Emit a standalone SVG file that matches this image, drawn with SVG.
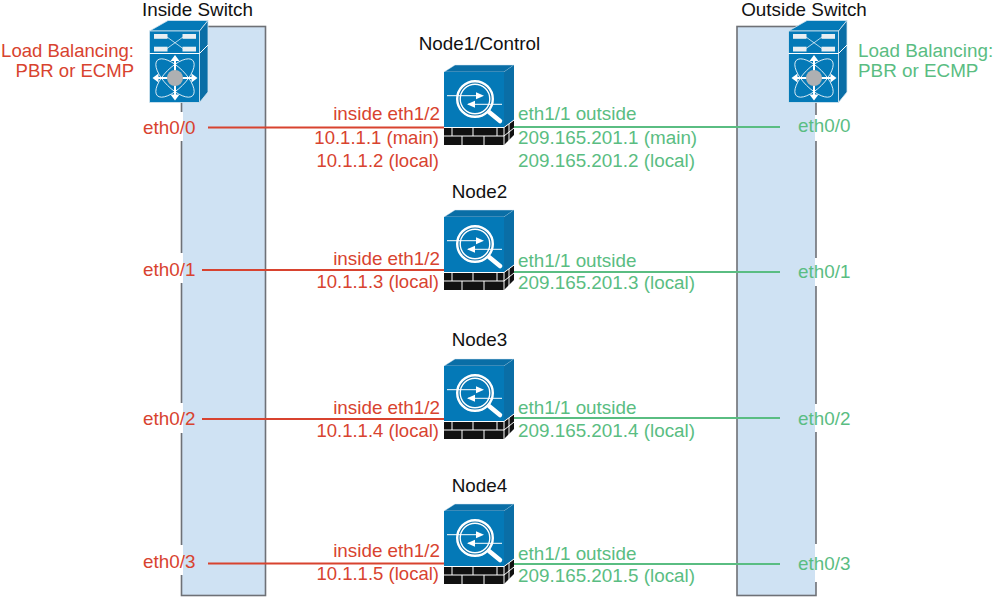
<svg xmlns="http://www.w3.org/2000/svg" width="994" height="597" viewBox="0 0 994 597">
<style>
text{font-family:"Liberation Sans",Arial,sans-serif;font-size:18.85px}
.k{fill:#111}
.r{fill:#d8432f}
.g{fill:#5abd82}
.e{text-anchor:end}
.n{font-size:18.55px}
.panel{fill:#cfe2f3;stroke:#6e7176;stroke-width:1.6}
.bg{fill:#fff}
.rl{stroke:#d8432f;stroke-width:2.2;fill:none}
.gl{stroke:#5abd82;stroke-width:2.2;fill:none}
.b1{fill:#0479b7}
.b2{fill:#0a6ea6}
.w{stroke:#fff;fill:none}
.wf{fill:#fff}
</style>
<defs>
<g id="sw">
<path class="b1" d="M149.500 31L168 20.500H208L199.500 31Z" stroke="#d6e6f0" stroke-width=".8"/>
<path class="b2" d="M199.500 31L208 20.500V92L199.500 102.500Z" stroke="#d6e6f0" stroke-width=".8"/>
<rect class="b1" x="149.500" y="31" width="50" height="71.500" stroke="#d6e6f0" stroke-width=".8"/>
<path class="w" stroke-width="1" d="M149.500 53.500H199.500L208 45"/>
<rect fill="#e8eef2" x="154" y="34" width="13.500" height="4.800"/><rect fill="#e8eef2" x="182.500" y="34" width="13.500" height="4.800"/>
<rect fill="#e8eef2" x="154" y="46.700" width="13.500" height="4.800"/><rect fill="#e8eef2" x="182.500" y="46.700" width="13.500" height="4.800"/>
<path class="w" stroke-width=".7" d="M167 37L183 48.500M167 48.500L183 37"/>
<ellipse class="w" stroke-width=".8" cx="175" cy="78" rx="25" ry="10.500" transform="rotate(45 175 78)"/>
<ellipse class="w" stroke-width=".8" cx="175" cy="78" rx="25" ry="10.500" transform="rotate(-45 175 78)"/>
<path class="w" stroke-width="2" d="M175 58V98M155 78H195"/>
<path class="wf" d="M175 55l4.500 6h-9zM175 100.500l4.500-6h-9zM152.500 78l6-4.500v9zM197.500 78l-6-4.500v9z"/>
<circle cx="175" cy="78" r="8" fill="#aeb0b2"/>
</g>
<g id="fw">
<path class="b2" d="M444 72L455 65H514L504 72Z" stroke="#d6e6f0" stroke-width=".5"/>
<path class="b2" d="M504 72L514 65V120L504 127.500Z"/>
<rect class="b1" x="444" y="72" width="60" height="55.500"/>
<path d="M444 127.500H504V145H444Z" fill="#111"/>
<path d="M504 127.500L514 120V135L504 145Z" fill="#111"/>
<path class="w" stroke-width="1" d="M444 127.500H504L514 120M444 136H504L514 128M452 127.500V136M473 127.500V136M497 127.500V136M462 136V145M484 136V145M504 127.500V145M509 124V132M509 132V141"/>
<circle cx="475" cy="99" r="17.800" fill="#0a6ea6" stroke="#fff" stroke-width="2.400"/>
<circle cx="475" cy="99" r="14.800" fill="#0479b7" stroke="#fff" stroke-width="1.400"/>
<path d="M489 112L500 121" stroke="#fff" stroke-width="4.500" stroke-linecap="round"/>
<path class="w" stroke-width="1" d="M447 95.700H480M468 104.300H502"/>
<path class="wf" d="M484 95.700l-8-3.500v7zM467 104.300l8-3.500v7z"/>
</g>
</defs>

<g id="inside-switch">
<rect class="panel" x="181.500" y="26.500" width="84" height="569"/>
<rect class="bg" x="140" y="112" width="43" height="29"/>
<rect class="bg" x="140" y="253" width="43" height="30"/>
<rect class="bg" x="140" y="403" width="43" height="30"/>
<rect class="bg" x="140" y="545" width="43" height="30"/>
<use href="#sw"/>
<text x="197.500" y="15.500" class="k" text-anchor="middle">Inside Switch</text>
<text x="134" y="56.500" class="r e n">Load Balancing:</text>
<text x="134" y="76.500" class="r e n">PBR or ECMP</text>
<text x="143" y="134" class="r">eth0/0</text>
<text x="143" y="276" class="r">eth0/1</text>
<text x="143" y="425" class="r">eth0/2</text>
<text x="143" y="568" class="r">eth0/3</text>
</g>

<g id="outside-switch">
<rect class="panel" x="737" y="26.500" width="79" height="569"/>
<rect class="bg" x="815" y="115" width="3" height="26"/>
<rect class="bg" x="815" y="258" width="3" height="28"/>
<rect class="bg" x="815" y="404" width="3" height="28"/>
<rect class="bg" x="815" y="544" width="3" height="38"/>
<use href="#sw" x="639"/>
<text x="804" y="15.500" class="k" text-anchor="middle">Outside Switch</text>
<text x="858" y="56.500" class="g">Load Balancing:</text>
<text x="858" y="76.500" class="g">PBR or ECMP</text>
<text x="798" y="132" class="g">eth0/0</text>
<text x="798" y="277.500" class="g">eth0/1</text>
<text x="798" y="424.500" class="g">eth0/2</text>
<text x="798" y="570" class="g">eth0/3</text>
</g>

<g id="connectors">
<path class="rl" d="M208 127.500H444M202 270H444M202 419H444M208 563.500H444"/>
<path class="gl" d="M514 127H780M514 272H780M514 418H780M514 564H780"/>
</g>

<g id="node1">
<use href="#fw"/>
<text x="479.500" y="50" class="k" text-anchor="middle">Node1/Control</text>
<text x="440" y="120" class="r e">inside eth1/2</text>
<text x="439" y="143.500" class="r e n">10.1.1.1 (main)</text>
<text x="439" y="167" class="r e n">10.1.1.2 (local)</text>
<text x="518" y="119.500" class="g">eth1/1 outside</text>
<text x="518" y="143.500" class="g">209.165.201.1 (main)</text>
<text x="518" y="166.500" class="g">209.165.201.2 (local)</text>
</g>
<g id="node2">
<use href="#fw" y="145"/>
<text x="479.500" y="197.500" class="k" text-anchor="middle">Node2</text>
<text x="440" y="265" class="r e">inside eth1/2</text>
<text x="439" y="288" class="r e n">10.1.1.3 (local)</text>
<text x="518" y="267" class="g">eth1/1 outside</text>
<text x="518" y="289" class="g">209.165.201.3 (local)</text>
</g>
<g id="node3">
<use href="#fw" y="294"/>
<text x="479.500" y="345.500" class="k" text-anchor="middle">Node3</text>
<text x="440" y="414" class="r e">inside eth1/2</text>
<text x="439" y="437" class="r e n">10.1.1.4 (local)</text>
<text x="518" y="413.500" class="g">eth1/1 outside</text>
<text x="518" y="436.500" class="g">209.165.201.4 (local)</text>
</g>
<g id="node4">
<use href="#fw" y="439"/>
<text x="479.500" y="491.500" class="k" text-anchor="middle">Node4</text>
<text x="440" y="557" class="r e">inside eth1/2</text>
<text x="439" y="580" class="r e n">10.1.1.5 (local)</text>
<text x="518" y="559.500" class="g">eth1/1 outside</text>
<text x="518" y="582" class="g">209.165.201.5 (local)</text>
</g>
</svg>
